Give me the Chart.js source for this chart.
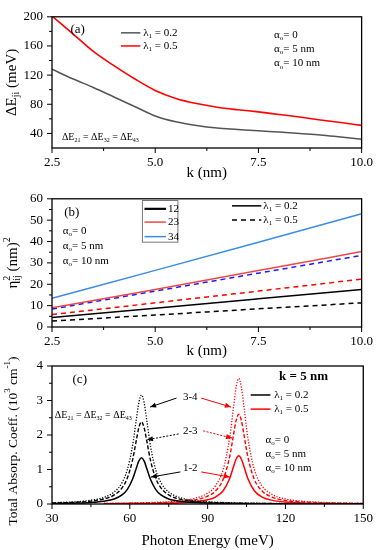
<!DOCTYPE html>
<html>
<head>
<meta charset="utf-8">
<script src="https://cdn.jsdelivr.net/npm/chart.js@4.4.1/dist/chart.umd.min.js"></script>
<style>
  html, body { margin: 0; padding: 0; background: #fff; }
  #wrap { position: relative; width: 380px; height: 550px; }
  canvas { position: absolute; left: 0; }
</style>
</head>
<body>
<div id="wrap">
  <canvas id="chartA" width="380" height="182" style="top:0px"></canvas>
  <canvas id="chartB" width="380" height="178" style="top:182px"></canvas>
  <canvas id="chartC" width="380" height="210" style="top:340px"></canvas>
</div>
<script>
const FONT = '"Liberation Serif", "Times New Roman", serif';

// ---- panel (a): transition energy vs k
const kA = [2.5, 3, 3.5, 4, 4.5, 5, 5.5, 6, 6.5, 7, 7.5, 8, 8.5, 9, 9.5, 10];
const dE_l02 = [128, 115, 103, 90, 77, 64, 56, 51, 47.5, 45.5, 43.5, 42, 40, 38, 35, 32];
const dE_l05 = [201, 177, 152.5, 133, 115, 99, 88, 81, 76, 72.5, 69.5, 66, 62.5, 58.5, 55, 51];
const kTicks = [2.5, 5, 7.5, 10];
const kTickLabels = ['2.5', '5.0', '7.5', '10.0'];
const kMinor = [3.75, 6.25, 8.75];
const aYTicks = [40, 80, 120, 160, 200];
const aYMinor = [60, 100, 140, 180];

// ---- panel (b): dipole matrix elements squared vs k
const kB = [2.5, 5, 7.5, 10];
const eta12_l02 = [4.4, 8.8, 13.2, 17.6];
const eta23_l02 = [9.0, 17.6, 26.4, 35.3];
const eta34_l02 = [13.4, 26.5, 39.7, 53.0];
const eta12_l05 = [2.8, 5.6, 8.5, 11.3];
const eta23_l05 = [5.8, 11.3, 16.8, 22.4];
const eta34_l05 = [8.4, 16.8, 25.2, 33.5];
const bYTicks = [0, 10, 20, 30, 40, 50, 60];
const bYMinor = [5, 15, 25, 35, 45, 55];

// ---- panel (c): absorption vs photon energy (k = 5 nm)
const eBlack = [30, 40, 45, 50, 54, 57, 59, 61, 62.5, 63.5, 64.5, 65.5, 66.5, 68, 70, 72, 75, 80, 85, 90, 100, 120, 150];
const abs12_l02 = [0.015, 0.030, 0.046, 0.082, 0.147, 0.263, 0.418, 0.708, 1.037, 1.249, 1.34, 1.249, 1.037, 0.708, 0.418, 0.263, 0.147, 0.072, 0.042, 0.028, 0.014, 0.006, 0.003];
const abs23_l02 = [0.027, 0.053, 0.083, 0.145, 0.262, 0.466, 0.743, 1.257, 1.842, 2.218, 2.38, 2.218, 1.842, 1.257, 0.743, 0.466, 0.262, 0.129, 0.075, 0.049, 0.026, 0.010, 0.005];
const abs34_l02 = [0.036, 0.070, 0.110, 0.193, 0.348, 0.619, 0.986, 1.668, 2.446, 2.945, 3.16, 2.945, 2.446, 1.668, 0.986, 0.619, 0.348, 0.171, 0.100, 0.065, 0.034, 0.014, 0.006];
const eRed = [50, 60, 70, 78, 85, 90, 93, 96, 98.5, 100, 101, 102, 103, 104, 105.5, 108, 111, 115, 120, 126, 135, 150];
const abs12_l05 = [0.007, 0.011, 0.018, 0.032, 0.063, 0.122, 0.202, 0.386, 0.739, 1.084, 1.305, 1.40, 1.305, 1.084, 0.739, 0.386, 0.202, 0.105, 0.057, 0.032, 0.017, 0.008];
const abs23_l05 = [0.013, 0.020, 0.034, 0.060, 0.118, 0.226, 0.376, 0.716, 1.373, 2.012, 2.423, 2.60, 2.423, 2.012, 1.373, 0.716, 0.376, 0.195, 0.105, 0.060, 0.032, 0.015];
const abs34_l05 = [0.018, 0.028, 0.048, 0.084, 0.165, 0.316, 0.526, 1.003, 1.922, 2.817, 3.392, 3.64, 3.392, 2.817, 1.922, 1.003, 0.526, 0.273, 0.147, 0.084, 0.045, 0.021];
const cXTicks = [30, 60, 90, 120, 150];
const cXMinor = [45, 75, 105, 135];
const cYTicks = [0, 1, 2, 3, 4];
const cYMinor = [0.5, 1.5, 2.5, 3.5];

const pts = (xs, ys) => xs.map((x, i) => ({ x: x, y: ys[i] }));

// small rich-text drawer: _{sub} and ^{sup}
function rich(ctx, s, x, y, size, align, bold) {
  const parts = [];
  const re = /([_^])\{([^}]*)\}|([^_^]+)/g;
  let m;
  while ((m = re.exec(s))) {
    if (m[3]) parts.push({ t: m[3], k: 'n' });
    else parts.push({ t: m[2], k: m[1] === '_' ? 'sub' : 'sup' });
  }
  const font = sz => (bold ? 'bold ' : '') + sz + 'px ' + FONT;
  const small = Math.round(size * 0.64);
  let cx = 0, prev = null;
  const items = [];
  for (const p of parts) {
    const sz = p.k === 'n' ? size : small;
    ctx.font = font(sz);
    const w = ctx.measureText(p.t).width;
    let px = cx;
    if (p.k === 'sub' && prev && prev.k === 'sup') {
      px = prev.x;
      cx = prev.x + Math.max(w, prev.w);
    } else {
      cx += w;
    }
    const it = { t: p.t, k: p.k, x: px, w: w, sz: sz };
    items.push(it);
    prev = it;
  }
  let x0 = x;
  if (align === 'center') x0 = x - cx / 2;
  else if (align === 'right') x0 = x - cx;
  ctx.textAlign = 'left';
  ctx.textBaseline = 'middle';
  for (const it of items) {
    ctx.font = font(it.sz);
    let dy = 0;
    if (it.k === 'sub') dy = size * 0.3;
    if (it.k === 'sup') dy = -size * 0.38;
    ctx.fillText(it.t, x0 + it.x, y + dy);
  }
}

const deco = {
  id: 'deco',
  afterDatasetsDraw(chart, args, o) {
    const { ctx, chartArea: a } = chart;
    const sx = chart.scales.x, sy = chart.scales.y;
    const X = v => sx.getPixelForValue(v), Y = v => sy.getPixelForValue(v);
    ctx.save();
    ctx.fillStyle = '#000';
    ctx.strokeStyle = '#000';

    // frame and outward ticks
    ctx.lineWidth = 1.3;
    ctx.strokeRect(a.left, a.top, a.right - a.left, a.bottom - a.top);
    ctx.lineWidth = 1;
    const tick = (vals, len, horiz) => vals.forEach(v => {
      ctx.beginPath();
      if (horiz) { const p = X(v); ctx.moveTo(p, a.bottom); ctx.lineTo(p, a.bottom + len); }
      else { const p = Y(v); ctx.moveTo(a.left, p); ctx.lineTo(a.left - len, p); }
      ctx.stroke();
    });
    tick(o.xMajor, 5, true); tick(o.xMinor, 3, true);
    tick(o.yMajor, 5, false); tick(o.yMinor, 3, false);

    // legend boxes
    (o.boxes || []).forEach(b => {
      ctx.strokeStyle = '#777'; ctx.lineWidth = 1;
      ctx.strokeRect(X(b.x1), Y(b.y1), X(b.x2) - X(b.x1), Y(b.y2) - Y(b.y1));
    });
    // legend key lines
    (o.keys || []).forEach(k => {
      ctx.strokeStyle = k.color; ctx.lineWidth = k.width || 1.5;
      ctx.setLineDash(k.dash || []);
      ctx.beginPath(); ctx.moveTo(X(k.x1), Y(k.y)); ctx.lineTo(X(k.x2), Y(k.y)); ctx.stroke();
      ctx.setLineDash([]);
    });
    // arrows
    (o.arrows || []).forEach(r => {
      const x1 = X(r.x1), y1 = Y(r.y1), x2 = X(r.x2), y2 = Y(r.y2);
      ctx.strokeStyle = r.color; ctx.fillStyle = r.color; ctx.lineWidth = 1;
      ctx.setLineDash(r.dash || []);
      ctx.beginPath(); ctx.moveTo(x1, y1); ctx.lineTo(x2, y2); ctx.stroke();
      ctx.setLineDash([]);
      const ang = Math.atan2(y2 - y1, x2 - x1), L = 6, W = 2.6;
      ctx.beginPath();
      ctx.moveTo(x2, y2);
      ctx.lineTo(x2 - L * Math.cos(ang) + W * Math.sin(ang), y2 - L * Math.sin(ang) - W * Math.cos(ang));
      ctx.lineTo(x2 - L * Math.cos(ang) - W * Math.sin(ang), y2 - L * Math.sin(ang) + W * Math.cos(ang));
      ctx.closePath(); ctx.fill();
    });
    // texts
    ctx.fillStyle = '#000';
    (o.texts || []).forEach(t => rich(ctx, t.s, X(t.x), Y(t.y), t.size || 11, t.align || 'left', t.bold));

    // rotated y title
    if (o.yTitle) {
      ctx.save();
      ctx.translate(o.yTitle.x, (a.top + a.bottom) / 2 + (o.yTitle.dy || 0));
      ctx.rotate(-Math.PI / 2);
      rich(ctx, o.yTitle.s, 0, 0, o.yTitle.size, 'center', false);
      ctx.restore();
    }
    ctx.restore();
  }
};
Chart.register(deco);

function scales(xr, xTicks, xLabels, yr, yTicks, xTitle, xAxisH) {
  return {
    x: {
      type: 'linear', min: xr[0], max: xr[1],
      afterBuildTicks: s => { s.ticks = xTicks.map(v => ({ value: v })); },
      afterFit: s => { s.height = xAxisH; },
      grid: { display: false, drawTicks: false }, border: { display: false },
      ticks: { padding: 7, color: '#000', font: { family: FONT, size: 13 }, maxRotation: 0, autoSkip: false,
               callback: (v, i) => xLabels[i] },
      title: { display: true, text: xTitle, color: '#000', font: { family: FONT, size: 15 }, padding: 0 }
    },
    y: {
      type: 'linear', min: yr[0], max: yr[1],
      afterBuildTicks: s => { s.ticks = yTicks.map(v => ({ value: v })); },
      afterFit: s => { s.width = 52; },
      grid: { display: false, drawTicks: false }, border: { display: false },
      ticks: { padding: 9, color: '#000', font: { family: FONT, size: 13 }, autoSkip: false },
      title: { display: false }
    }
  };
}

function line(label, xs, ys, color, dash, width) {
  return {
    label: label, data: pts(xs, ys), borderColor: color, backgroundColor: color,
    borderWidth: width || 1.5, borderDash: dash || [], pointRadius: 0,
    cubicInterpolationMode: 'monotone', fill: false
  };
}

const base = (padTop, sc, decoOpts) => ({
  responsive: false, animation: false, devicePixelRatio: 1,
  layout: { padding: { top: padTop, right: 13, left: 0, bottom: 0 } },
  scales: sc,
  plugins: { legend: { display: false }, tooltip: { enabled: false }, deco: decoOpts }
});

// ---------- chart (a)
new Chart(document.getElementById('chartA').getContext('2d'), {
  type: 'line',
  data: { datasets: [
    line('λ1 = 0.2', kA, dE_l02, '#555555', [], 1.5),
    line('λ1 = 0.5', kA, dE_l05, '#ff0000', [], 1.6)
  ] },
  options: base(10, scales([2.5, 10], kTicks, kTickLabels, [20, 200], aYTicks, 'k (nm)', 34), {
    xMajor: kTicks, xMinor: kMinor, yMajor: aYTicks, yMinor: aYMinor,
    keys: [
      { x1: 4.17, x2: 4.64, y: 178, color: '#555555' },
      { x1: 4.17, x2: 4.64, y: 160, color: '#ff0000' }
    ],
    texts: [
      { x: 3.12, y: 183, s: '(a)', size: 13, align: 'center' },
      { x: 4.71, y: 178, s: 'λ_{1} = 0.2' },
      { x: 4.71, y: 160, s: 'λ_{1} = 0.5' },
      { x: 7.88, y: 175, s: 'α_{o}= 0' },
      { x: 7.88, y: 156, s: 'α_{o}= 5 nm' },
      { x: 7.88, y: 136, s: 'α_{o}= 10 nm' },
      { x: 2.74, y: 35, s: 'ΔE_{21} = ΔE_{32} = ΔE_{43}', size: 10 }
    ],
    yTitle: { x: 12, s: 'ΔE_{ji} (meV)', size: 15 }
  })
});

// ---------- chart (b)
new Chart(document.getElementById('chartB').getContext('2d'), {
  type: 'line',
  data: { datasets: [
    line('12, λ1 = 0.2', kB, eta12_l02, '#000000', [], 1.5),
    line('23, λ1 = 0.2', kB, eta23_l02, '#f04848', [], 1.5),
    line('34, λ1 = 0.2', kB, eta34_l02, '#3a8ce6', [], 1.5),
    line('12, λ1 = 0.5', kB, eta12_l05, '#000000', [5, 4], 1.5),
    line('23, λ1 = 0.5', kB, eta23_l05, '#ff0000', [5, 4], 1.5),
    line('34, λ1 = 0.5', kB, eta34_l05, '#1a1aff', [5, 4], 1.5)
  ] },
  options: base(6, scales([2.5, 10], kTicks, kTickLabels, [0, 60], bYTicks, 'k (nm)', 33), {
    xMajor: kTicks, xMinor: kMinor, yMajor: bYTicks, yMinor: bYMinor,
    boxes: [{ x1: 4.69, y1: 59.2, x2: 5.55, y2: 39.7 }],
    keys: [
      { x1: 4.74, x2: 5.26, y: 55.3, color: '#000000', width: 2.2 },
      { x1: 4.74, x2: 5.26, y: 49.1, color: '#f04848' },
      { x1: 4.74, x2: 5.26, y: 42.3, color: '#3a8ce6' },
      { x1: 6.86, x2: 7.57, y: 56.7, color: '#000000' },
      { x1: 6.86, x2: 7.57, y: 50.1, color: '#000000', dash: [5, 4] }
    ],
    texts: [
      { x: 2.98, y: 53.5, s: '(b)', size: 13, align: 'center' },
      { x: 2.76, y: 44.9, s: 'α_{o}= 0' },
      { x: 2.76, y: 37.9, s: 'α_{o}= 5 nm' },
      { x: 2.76, y: 31.0, s: 'α_{o}= 10 nm' },
      { x: 5.31, y: 55.3, s: '12' },
      { x: 5.31, y: 49.1, s: '23' },
      { x: 5.31, y: 42.3, s: '34' },
      { x: 7.62, y: 56.7, s: 'λ_{1} = 0.2' },
      { x: 7.62, y: 50.1, s: 'λ_{1} = 0.5' }
    ],
    yTitle: { x: 13, s: 'η^{2}_{ij} (nm)^{2}', size: 15 }
  })
});

// ---------- chart (c)
new Chart(document.getElementById('chartC').getContext('2d'), {
  type: 'line',
  data: { datasets: [
    line('1-2, λ1 = 0.2', eBlack, abs12_l02, '#000000', [], 1.5),
    line('2-3, λ1 = 0.2', eBlack, abs23_l02, '#000000', [4, 2], 1.4),
    line('3-4, λ1 = 0.2', eBlack, abs34_l02, '#000000', [1.2, 1.6], 1.3),
    line('1-2, λ1 = 0.5', eRed, abs12_l05, '#ff0000', [], 1.5),
    line('2-3, λ1 = 0.5', eRed, abs23_l05, '#ff0000', [4, 2], 1.4),
    line('3-4, λ1 = 0.5', eRed, abs34_l05, '#ff0000', [1.2, 1.6], 1.3)
  ] },
  options: base(26, scales([30, 150], cXTicks, cXTicks.map(String), [0, 4], cYTicks, 'Photon Energy (meV)', 46), {
    xMajor: cXTicks, xMinor: cXMinor, yMajor: cYTicks, yMinor: cYMinor,
    keys: [
      { x1: 106.6, x2: 114.2, y: 3.16, color: '#000000' },
      { x1: 106.6, x2: 114.2, y: 2.75, color: '#ff0000' }
    ],
    arrows: [
      { x1: 78, y1: 3.07, x2: 67.8, y2: 2.81, color: '#000000' },
      { x1: 87.5, y1: 3.07, x2: 99, y2: 2.81, color: '#ff0000' },
      { x1: 78.8, y1: 2.03, x2: 66.6, y2: 1.86, color: '#000000', dash: [2, 1.5] },
      { x1: 88.3, y1: 2.12, x2: 99.4, y2: 1.91, color: '#ff0000', dash: [2, 1.5] },
      { x1: 79.5, y1: 0.93, x2: 68.1, y2: 0.78, color: '#000000' },
      { x1: 87.5, y1: 0.93, x2: 98.6, y2: 0.78, color: '#ff0000' }
    ],
    texts: [
      { x: 40.7, y: 3.6, s: '(c)', size: 13, align: 'center' },
      { x: 127, y: 3.68, s: 'k = 5 nm', size: 13, align: 'center', bold: true },
      { x: 115.7, y: 3.16, s: 'λ_{1} = 0.2' },
      { x: 115.7, y: 2.75, s: 'λ_{1} = 0.5' },
      { x: 112.3, y: 1.86, s: 'α_{o}= 0' },
      { x: 112.3, y: 1.45, s: 'α_{o}= 5 nm' },
      { x: 112.3, y: 1.04, s: 'α_{o}= 10 nm' },
      { x: 31.1, y: 2.58, s: 'ΔE_{21} = ΔE_{32} = ΔE_{43}', size: 10 },
      { x: 83.3, y: 3.1, s: '3-4', align: 'center' },
      { x: 83.3, y: 2.12, s: '2-3', align: 'center' },
      { x: 83.3, y: 1.04, s: '1-2', align: 'center' }
    ],
    yTitle: { x: 13, dy: 6, s: 'Total Absorp. Coeff. (10^{3} cm^{-1})', size: 13.5 }
  })
});
</script>
</body>
</html>
